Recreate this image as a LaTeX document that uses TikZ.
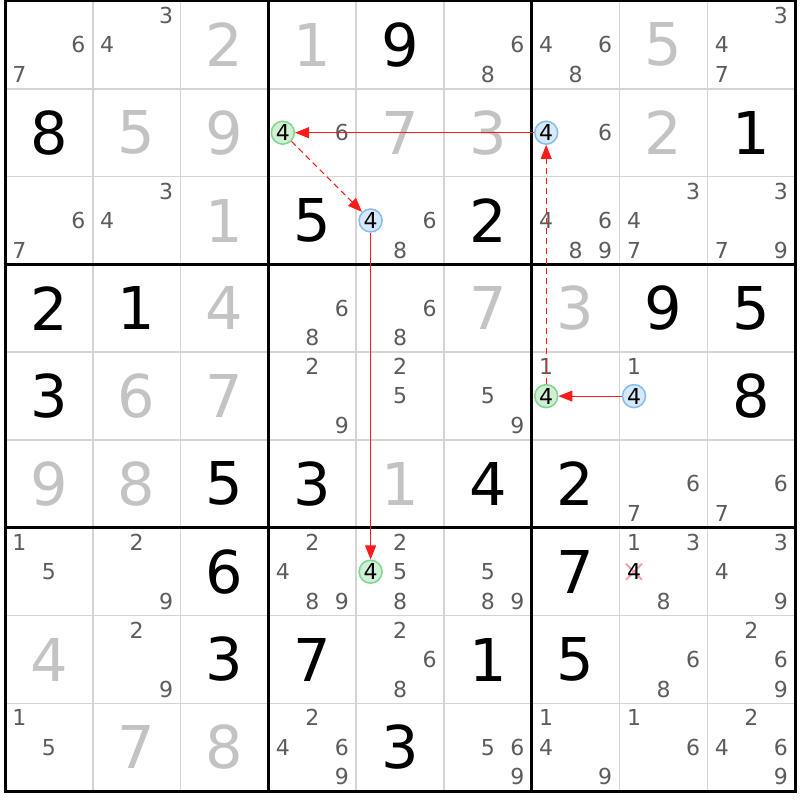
\documentclass[tikz,border=0pt]{standalone}
\usepackage{fontspec}
\setmainfont{DejaVu Sans}
\usetikzlibrary{arrows.meta}
\definecolor{solvedgray}{HTML}{C3C3C3}
\definecolor{candgray}{HTML}{5C5C5C}
\definecolor{gridgray}{HTML}{D4D4D4}
\definecolor{gfill}{HTML}{D0EFD4}
\definecolor{gborder}{HTML}{7DD88C}
\definecolor{bfill}{HTML}{D6E8FB}
\definecolor{bborder}{HTML}{86BCF0}
\definecolor{linkred}{HTML}{FF1A1A}
\definecolor{crosspink}{HTML}{F4A2AA}
\newcommand\dig[4]{\node[#1] (d#2#3) at ({5+87.8*(#3-0.5)},{1+87.8*(#2-0.5)}) {#4};}
\newcommand\candxy[3]{%
  \pgfmathsetmacro\px{5+87.8*(#2-1)+43.9+(mod(#3-1,3)-1)*29.5}%
  \pgfmathsetmacro\py{1+87.8*(#1-1)+43.9+(div(#3-1,3)-1)*29.5}}
\newcommand\cands[3]{\foreach \k in {#3}{\candxy{#1}{#2}{\k}\node[cand] (c#1#2-\k) at (\px,\py) {\k};}}
\begin{document}
\begin{tikzpicture}[x=1pt,y=-1pt,
  gv/.style={inner sep=0pt, font=\fontsize{59}{60}\selectfont, text=black},
  sv/.style={gv, text=solvedgray},
  cand/.style={inner sep=0pt, font=\fontsize{22}{24}\selectfont, text=candgray},
  gcirc/.style={circle, draw=gborder, fill=gfill, line width=1.5pt, minimum size=23pt, inner sep=0pt, font=\fontsize{22}{24}\selectfont, text=black},
  bcirc/.style={gcirc, draw=bborder, fill=bfill},
  thinline/.style={draw=gridgray, line width=1.6pt},
  thickline/.style={draw=black, line width=3pt},
  link/.style={draw=linkred, line width=1pt, -{Triangle[length=14pt,width=11pt]}},
  weaklink/.style={link, dash pattern=on 6pt off 4pt},
  cross/.style={draw=crosspink, line width=2pt}]
\useasboundingbox (0,0) rectangle (800,800);
\fill[white] (0,0) rectangle (800,800);
% grid
\foreach \i in {1,2,4,5,7,8}{
  \draw[thinline] ({5+87.8*\i},1) -- ({5+87.8*\i},791.2);
  \draw[thinline] (5,{1+87.8*\i}) -- (795.2,{1+87.8*\i});
}
\foreach \i in {0,3,6,9}{
  \draw[thickline] ({5+87.8*\i},-0.5) -- ({5+87.8*\i},792.7);
  \draw[thickline] (3.5,{1+87.8*\i}) -- (796.7,{1+87.8*\i});
}
% row 1
\cands{1}{1}{6,7} \cands{1}{2}{3,4} \dig{sv}{1}{3}{2} \dig{sv}{1}{4}{1} \dig{gv}{1}{5}{9}
\cands{1}{6}{6,8} \cands{1}{7}{4,6,8} \dig{sv}{1}{8}{5} \cands{1}{9}{3,4,7}
% row 2
\dig{gv}{2}{1}{8} \dig{sv}{2}{2}{5} \dig{sv}{2}{3}{9} \cands{2}{4}{6} \dig{sv}{2}{5}{7}
\dig{sv}{2}{6}{3} \cands{2}{7}{6} \dig{sv}{2}{8}{2} \dig{gv}{2}{9}{1}
% row 3
\cands{3}{1}{6,7} \cands{3}{2}{3,4} \dig{sv}{3}{3}{1} \dig{gv}{3}{4}{5} \cands{3}{5}{6,8}
\dig{gv}{3}{6}{2} \cands{3}{7}{4,6,8,9} \cands{3}{8}{3,4,7} \cands{3}{9}{3,7,9}
% row 4
\dig{gv}{4}{1}{2} \dig{gv}{4}{2}{1} \dig{sv}{4}{3}{4} \cands{4}{4}{6,8} \cands{4}{5}{6,8}
\dig{sv}{4}{6}{7} \dig{sv}{4}{7}{3} \dig{gv}{4}{8}{9} \dig{gv}{4}{9}{5}
% row 5
\dig{gv}{5}{1}{3} \dig{sv}{5}{2}{6} \dig{sv}{5}{3}{7} \cands{5}{4}{2,9} \cands{5}{5}{2,5}
\cands{5}{6}{5,9} \cands{5}{7}{1} \cands{5}{8}{1} \dig{gv}{5}{9}{8}
% row 6
\dig{sv}{6}{1}{9} \dig{sv}{6}{2}{8} \dig{gv}{6}{3}{5} \dig{gv}{6}{4}{3} \dig{sv}{6}{5}{1}
\dig{gv}{6}{6}{4} \dig{gv}{6}{7}{2} \cands{6}{8}{6,7} \cands{6}{9}{6,7}
% row 7
\cands{7}{1}{1,5} \cands{7}{2}{2,9} \dig{gv}{7}{3}{6} \cands{7}{4}{2,4,8,9} \cands{7}{5}{2,5,8}
\cands{7}{6}{5,8,9} \dig{gv}{7}{7}{7} \cands{7}{8}{1,3,8} \cands{7}{9}{3,4,9}
% row 8
\dig{sv}{8}{1}{4} \cands{8}{2}{2,9} \dig{gv}{8}{3}{3} \dig{gv}{8}{4}{7} \cands{8}{5}{2,6,8}
\dig{gv}{8}{6}{1} \dig{gv}{8}{7}{5} \cands{8}{8}{6,8} \cands{8}{9}{2,6,9}
% row 9
\cands{9}{1}{1,5} \dig{sv}{9}{2}{7} \dig{sv}{9}{3}{8} \cands{9}{4}{2,4,6,9} \dig{gv}{9}{5}{3}
\cands{9}{6}{5,6,9} \cands{9}{7}{1,4,9} \cands{9}{8}{1,6} \cands{9}{9}{2,4,6,9}
% eliminated candidate
\candxy{7}{8}{4}
\draw[cross] (\px-8,\py-8) -- (\px+8,\py+8);
\draw[cross] (\px-8,\py+8) -- (\px+8,\py-8);
\node[cand, text=black] (x78) at (\px,\py) {4};
% circled candidates
\candxy{2}{4}{4}\node[gcirc] (g24) at (\px,\py) {4};
\candxy{2}{7}{4}\node[bcirc] (b27) at (\px,\py) {4};
\candxy{3}{5}{4}\node[bcirc] (b35) at (\px,\py) {4};
\candxy{5}{7}{4}\node[gcirc] (g57) at (\px,\py) {4};
\candxy{5}{8}{4}\node[bcirc] (b58) at (\px,\py) {4};
\candxy{7}{5}{4}\node[gcirc] (g75) at (\px,\py) {4};
% links
\draw[link] (b27) -- (g24);
\draw[weaklink] (g24) -- (b35);
\draw[link] (b35) -- (g75);
\draw[link] (b58) -- (g57);
\draw[weaklink] (g57) -- (b27);
\end{tikzpicture}
\end{document}
